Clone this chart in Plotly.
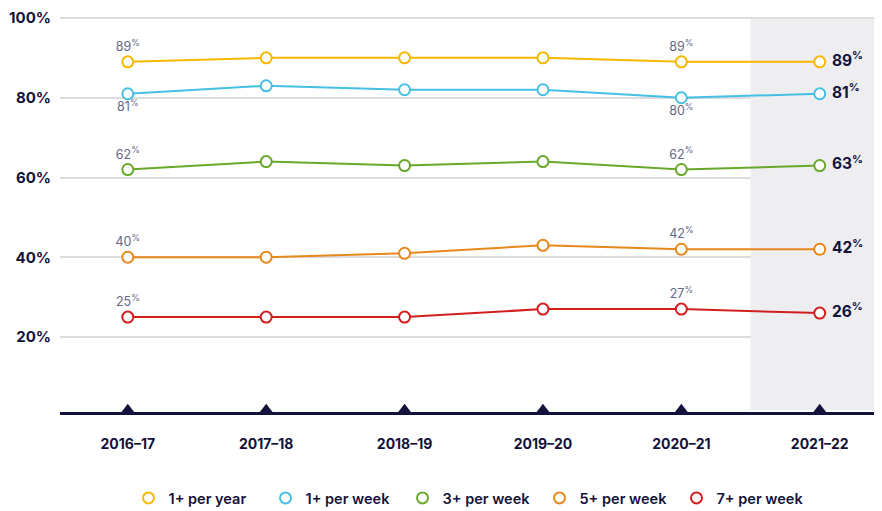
import plotly.graph_objects as go

categories = ["2016–17", "2017–18", "2018–19", "2019–20", "2020–21", "2021–22"]
series_names = ["1+ per year", "1+ per week", "3+ per week", "5+ per week", "7+ per week"]
per_year_1 = [89, 90, 90, 90, 89, 89]
per_week_1 = [81, 83, 82, 82, 80, 81]
per_week_3 = [62, 64, 63, 64, 62, 63]
per_week_5 = [40, 40, 41, 43, 42, 42]
per_week_7 = [25, 25, 25, 27, 27, 26]
y_ticks = [20, 40, 60, 80, 100]
y_tick_labels = ["20%", "40%", "60%", "80%", "100%"]

series_values = [per_year_1, per_week_1, per_week_3, per_week_5, per_week_7]
colors = ["#F6B800", "#45BFE3", "#68A82A", "#E8881C", "#D31E1E"]
label_side = ["top", "bottom", "top", "top", "top"]
labelled_idx = [0, 4]

NAVY = "#12123A"
LABEL_GRAY = "#646888"
FONT = "Inter"

y_min, y_max = 1.2, 101
x_min, x_max = -0.49, 5.45
n = len(categories)
xs = list(range(n))

fig = go.Figure()

for name, vals, col, side in zip(series_names, series_values, colors, label_side):
    texts, positions, tcolors, tsizes = [], [], [], []
    for i, v in enumerate(vals):
        if i == n - 1:
            texts.append(f"\u00a0<b>{v}<sup>%</sup></b>")
            positions.append("middle right")
            tcolors.append(NAVY)
            tsizes.append(15.5)
        elif i in labelled_idx:
            texts.append(f"{v}<sup>%</sup>")
            positions.append(f"{side} center")
            tcolors.append(LABEL_GRAY)
            tsizes.append(12.5)
        else:
            texts.append("")
            positions.append("top center")
            tcolors.append(LABEL_GRAY)
            tsizes.append(12)
    fig.add_trace(go.Scatter(
        x=xs, y=vals, mode="lines+markers+text", name=name, showlegend=False,
        line=dict(color=col, width=2),
        marker=dict(symbol="circle", size=11, color="white", line=dict(color=col, width=2)),
        text=texts, textposition=positions,
        textfont=dict(family=FONT, color=tcolors, size=tsizes),
        cliponaxis=False, hoverinfo="skip",
    ))

# legend-only entries (open circles)
for name, col in zip(series_names, colors):
    fig.add_trace(go.Scatter(
        x=[None], y=[None], mode="markers", name=name,
        marker=dict(symbol="circle", size=11, color="white", line=dict(color=col, width=2)),
    ))

# axis tick triangles on baseline
fig.add_trace(go.Scatter(
    x=xs, y=[y_min + 0.7] * n, mode="markers", showlegend=False, hoverinfo="skip",
    marker=dict(symbol="triangle-up", size=11, color=NAVY), cliponaxis=False,
))

shapes = [
    dict(type="rect", xref="x", yref="y", x0=n - 1.5, x1=x_max, y0=y_min + 0.5, y1=y_ticks[-1],
         fillcolor="#EEEEF1", line=dict(width=0), layer="between"),
    dict(type="line", xref="x", yref="y", x0=x_min, x1=x_max, y0=y_ticks[-1], y1=y_ticks[-1],
         line=dict(color="#DCDCDF", width=1.5), layer="between"),
]

fig.update_layout(
    width=874, height=503,
    margin=dict(l=52, r=0, t=6, b=99, autoexpand=False),
    plot_bgcolor="white", paper_bgcolor="white",
    shapes=shapes,
    font=dict(family=FONT, color=NAVY),
    xaxis=dict(
        range=[x_min, x_max], tickvals=xs, ticktext=categories, automargin=False,
        showgrid=False, zeroline=False, showline=True, linecolor=NAVY, linewidth=3,
        ticks="", ticklabelstandoff=17,
        tickfont=dict(family=FONT, size=14, color=NAVY, weight="bold"),
    ),
    yaxis=dict(
        range=[y_min, y_max], tickvals=y_ticks, ticktext=y_tick_labels, automargin=False,
        showgrid=True, gridcolor="#DCDCDF", gridwidth=1.5, zeroline=False, showline=False,
        ticks="", ticklabelstandoff=8,
        tickfont=dict(family=FONT, size=15, color=NAVY, weight="bold"),
    ),
    legend=dict(
        orientation="h", x=0.5, xanchor="center", y=-0.216, yanchor="middle",
        font=dict(family=FONT, size=14.5, color=NAVY, weight=600),
        entrywidth=92, entrywidthmode="pixels", itemwidth=30,
    ),
)

fig.write_html("out.html")
